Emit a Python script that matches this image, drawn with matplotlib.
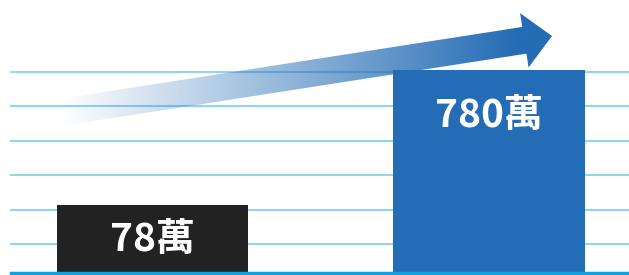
import matplotlib.pyplot as plt
import numpy as np
from matplotlib.patches import Polygon

# bar heights are drawn in "gridline" pixel units, labels carry the real values
categories = ['before', 'after']
heights = [68, 203]
labels = ['78萬', '780萬']
bar_colors = ['#222222', '#246cb5']
grid_levels = [29, 63.5, 98, 132.5, 167, 201.5]

fig = plt.figure(figsize=(6.29, 2.75), dpi=100)
ax = fig.add_axes([0, 0, 1, 1])
ax.set_xlim(-0.453, 1.416)
ax.set_ylim(-2, 273)
ax.axis('off')

x = np.arange(len(categories))
for g in grid_levels:
    ax.axhline(g, xmin=11 / 629, xmax=1, color='#93d5f0', lw=1.5, zorder=1)
ax.axhline(0, xmin=11 / 629, xmax=1, color='#12a0dc', lw=2.5, zorder=4)
ax.bar(x, heights, width=0.568, color=bar_colors, zorder=2, align='center')

label_y = [22, 146]
for xi, lab, ly in zip(x, labels, label_y):
    ax.text(xi, ly, lab, color='white', fontsize=28, fontweight='bold',
            ha='center', va='baseline', family=['Noto Sans CJK TC', 'DejaVu Sans'],
            zorder=5)

# gradient arrow in pixel coordinates on an overlay
ov = fig.add_axes([0, 0, 1, 1], facecolor='none')
ov.set_xlim(0, 629)
ov.set_ylim(275, 0)
ov.axis('off')

tail = np.array([60.0, 112.5])
tip = np.array([552.0, 36.0])
shaft_half = 13.5
head_half = 27.5
head_len = 28.0
d = (tip - tail) / np.linalg.norm(tip - tail)
n = np.array([d[1], -d[0]])
if n[1] < 0:
    n = -n
base = tip - d * head_len
pts = [tail + n * shaft_half, base + n * shaft_half, base + n * head_half, tip,
       base - n * head_half, base - n * shaft_half, tail - n * shaft_half]
poly = Polygon(pts, closed=True, facecolor='none', edgecolor='none')
ov.add_patch(poly)

grad = np.zeros((2, 300, 4))
grad[..., 0] = 36 / 255
grad[..., 1] = 108 / 255
grad[..., 2] = 181 / 255
grad[..., 3] = np.clip(np.linspace(0, 1.08, 300), 0, 1)[None, :]
im = ov.imshow(grad, extent=[60, 552, 0, 130], aspect='auto', interpolation='bilinear', zorder=3)
im.set_clip_path(poly)
ov.set_xlim(0, 629)
ov.set_ylim(275, 0)

plt.savefig('out.png', dpi=100)
